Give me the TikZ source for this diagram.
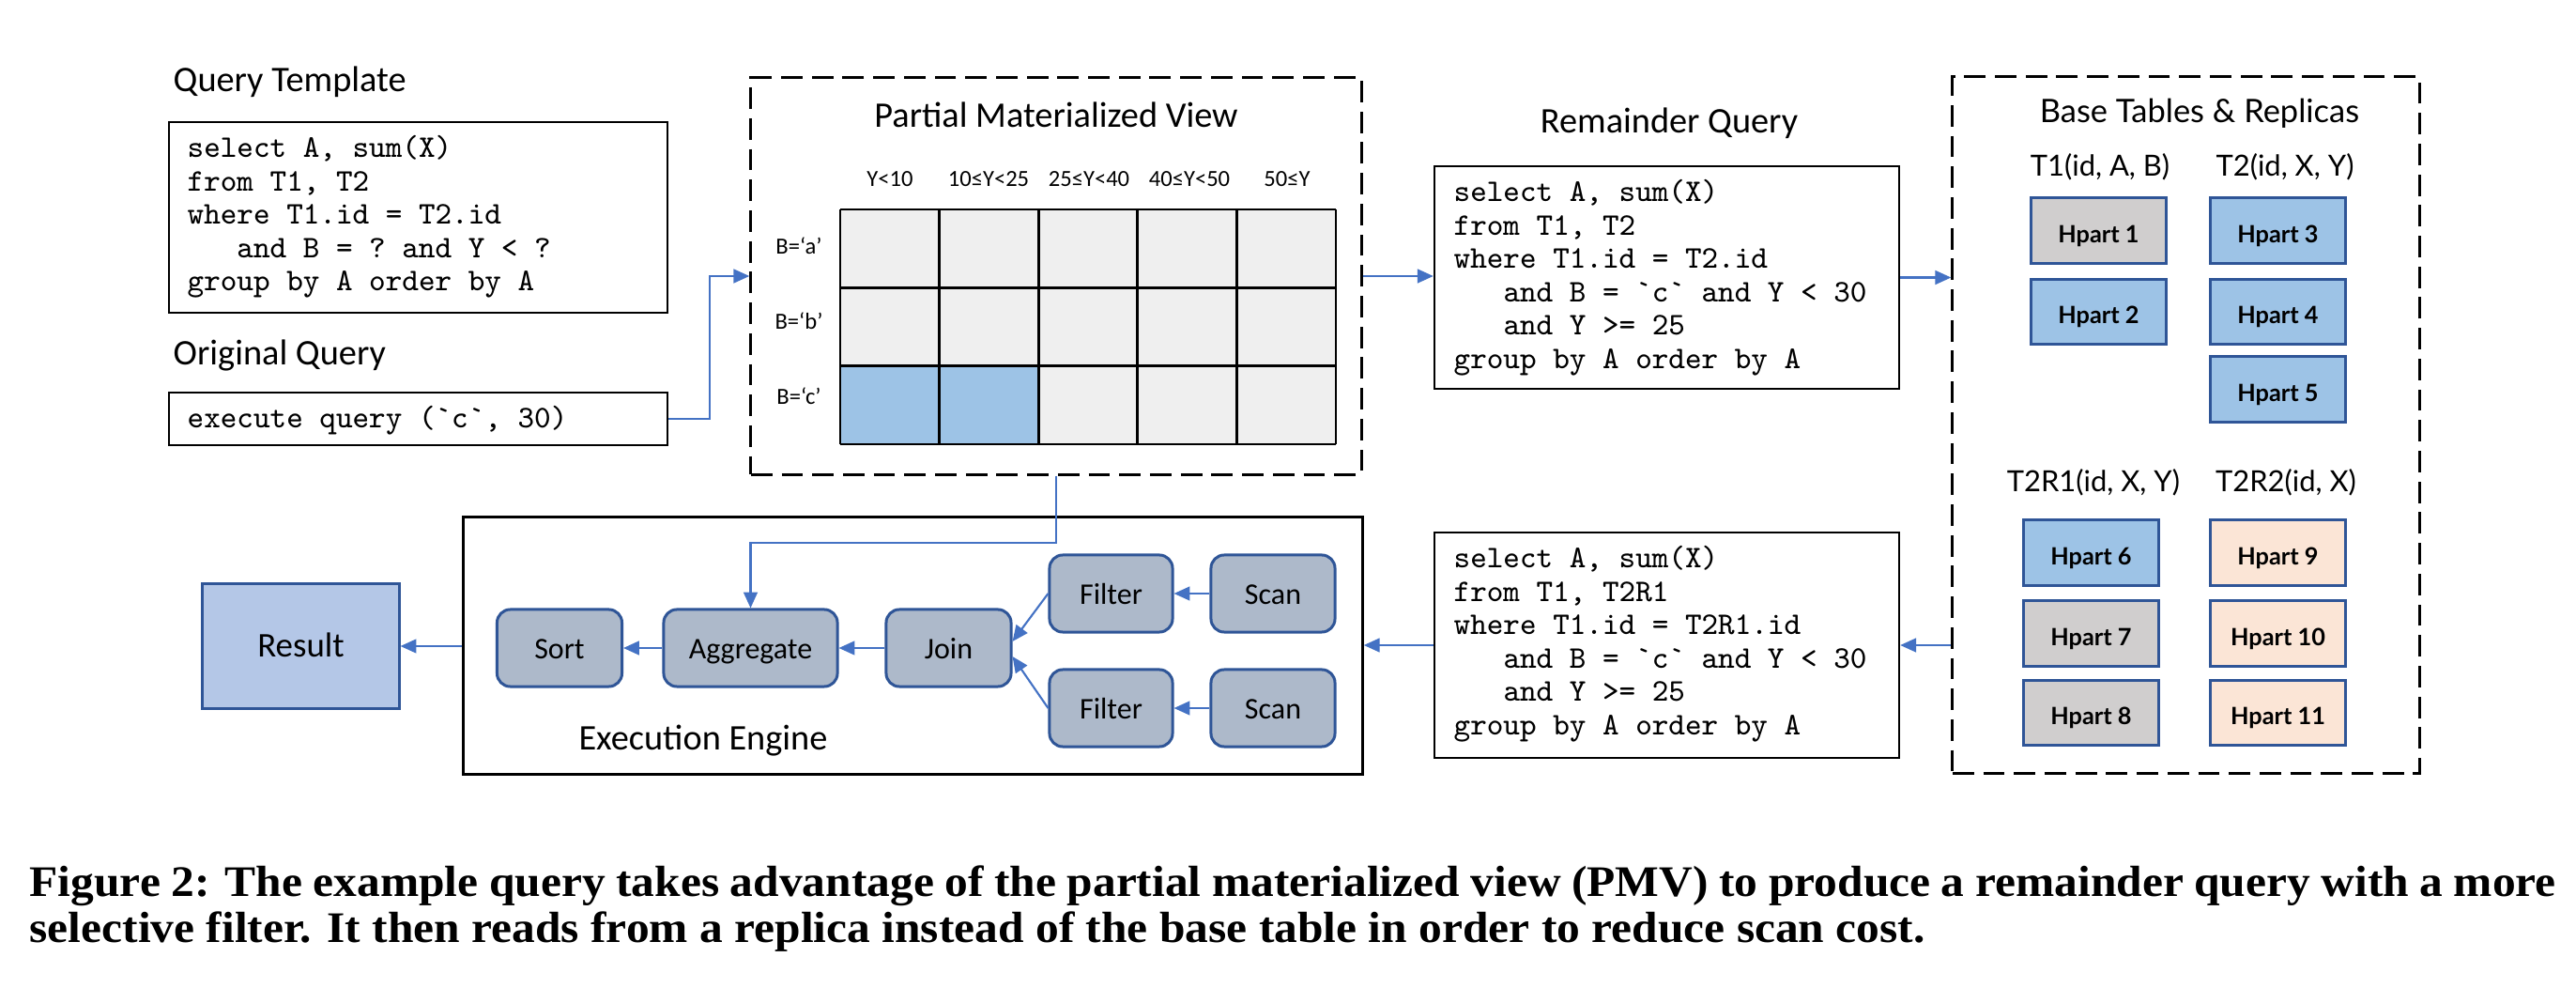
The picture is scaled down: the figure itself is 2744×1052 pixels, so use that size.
\documentclass[tikz,border=0pt]{standalone}
\usepackage{fontspec}
\usepackage{graphicx}
\setmainfont{Carlito}
\setmonofont{Latin Modern Mono}
\newfontfamily\latofont{Lato}
\newfontfamily\capfont{Liberation Serif}
\usetikzlibrary{arrows.meta,calc}
\definecolor{arrowblue}{HTML}{4472C4}
\definecolor{darkblue}{HTML}{2F5597}
\definecolor{hblue}{HTML}{9DC3E6}
\definecolor{hgray}{HTML}{D0CECE}
\definecolor{hpeach}{HTML}{FBE5D6}
\definecolor{engfill}{HTML}{ADB9CA}
\definecolor{resfill}{HTML}{B4C7E7}
\definecolor{cellgray}{HTML}{EFEFEF}
\newcommand\codeblock[1]{\vtop{\ttfamily\fontsize{9.53}{10.07}\selectfont\halign{##\hfil\cr#1}}}
\newcommand\ind{\hphantom{xxx}}
\tikzset{
  arr/.style={draw=arrowblue, line width=0.6pt, -{Triangle[length=4.8pt,width=4.2pt]}},
  codebox/.style={draw=black, line width=0.6pt, inner sep=0pt},
  codetext/.style={anchor=base west, inner sep=0pt},
  dashbox/.style={draw=black, line width=0.85pt, dash pattern=on 6.5pt off 2.8pt, inner sep=0pt},
  title/.style={inner sep=0pt, font=\fontsize{10.9}{12}\selectfont},
  engnode/.style={draw=darkblue, fill=engfill, line width=0.85pt, rounded corners=4pt,
    minimum height=0.82cm, inner sep=0pt, text height=0.644em, text depth=0pt,
    font=\fontsize{9.1}{11}\selectfont},
  hpart/.style={draw=darkblue, line width=0.85pt, minimum width=1.43cm, minimum height=0.69cm,
    inner sep=0pt, text height=0.72em, text depth=0pt, font=\latofont\bfseries\fontsize{7.2}{8}\selectfont},
  thead/.style={inner sep=0pt, anchor=base, font=\latofont\fontsize{8.8}{10}\selectfont},
  pmvlab/.style={inner sep=0pt, font=\fontsize{7}{8}\selectfont},
  captext/.style={anchor=base west, inner sep=0pt, font=\capfont\bfseries\fontsize{13.2}{15}\selectfont},
}
\begin{document}
\begin{tikzpicture}[x=0.01cm,y=-0.01cm]
\fill[white] (0,0) rectangle (2744,1052);
\useasboundingbox (0,0) rectangle (2744,1052);

% ---------- left: query template and original query ----------
\node[title, anchor=base west] (qtl) at (184,98) {Query Template};
\node[codebox, minimum width=5.31cm, minimum height=2.03cm] (tmpl) at (445.5,231.5) {};
\node[codetext] (tmpltext) at (199,168) {\codeblock{%
select A, sum(X)\cr
from T1, T2\cr
where T1.id = T2.id\cr
\ind and B = ? and Y < ?\cr
group by A order by A\cr}};
\node[title, anchor=base west] (oql) at (184,389) {Original Query};
\node[codebox, minimum width=5.31cm, minimum height=0.56cm] (exq) at (445.5,446) {};
\node[codetext] (exqtext) at (199,456) {\codeblock{execute query (`c`, 30)\cr}};

% ---------- PMV ----------
\node[dashbox, minimum width=6.5cm, minimum height=4.22cm] (pmv) at (1125,294) {};
\node[title, anchor=base] (pmvt) at (1125,136) {Partial Materialized View};
\foreach \c in {0,...,4}{
  \foreach \r in {0,1,2}{
    \fill[cellgray] (895+105.6*\c,223+83.3*\r) rectangle ++(105.6,83.3);
  }
}
\fill[hblue] (895,389.6) rectangle (1106.2,473);
\foreach \c in {0,...,5}{ \draw[line width=0.75pt] (895+105.6*\c,223) -- (895+105.6*\c,473); }
\foreach \r in {0,...,3}{ \draw[line width=0.75pt] (895,223+83.3*\r) -- (1423,223+83.3*\r); }
\node[pmvlab] (c1) at (948,191) {Y<10};
\node[pmvlab] (c2) at (1053,191) {10≤Y<25};
\node[pmvlab] (c3) at (1160,191) {25≤Y<40};
\node[pmvlab] (c4) at (1267,191) {40≤Y<50};
\node[pmvlab] (c5) at (1371,191) {50≤Y};
\node[pmvlab] (r1) at (851,262) {B=‘a’};
\node[pmvlab] (r2) at (851,342) {B=‘b’};
\node[pmvlab] (r3) at (851,422) {B=‘c’};

% ---------- Remainder query ----------
\node[title, anchor=base] (remt) at (1778,142) {Remainder Query};
\node[codebox, minimum width=4.95cm, minimum height=2.37cm] (rem) at (1775.5,295.5) {};
\node[codetext] (remtext) at (1548,215) {\codeblock{%
select A, sum(X)\cr
from T1, T2\cr
where T1.id = T2.id\cr
\ind and B = `c` and Y < 30\cr
\ind and Y >= 25\cr
group by A order by A\cr}};

% ---------- lower query ----------
\node[codebox, minimum width=4.95cm, minimum height=2.40cm] (lowq) at (1775.5,687) {};
\node[codetext] (lowqtext) at (1548,605) {\codeblock{%
select A, sum(X)\cr
from T1, T2R1\cr
where T1.id = T2R1.id\cr
\ind and B = `c` and Y < 30\cr
\ind and Y >= 25\cr
group by A order by A\cr}};

% ---------- Base tables ----------
\node[dashbox, minimum width=4.97cm, minimum height=7.41cm] (base) at (2328.5,452.5) {};
\node[inner sep=0pt, anchor=base, font=\latofont\fontsize{9.8}{11}\selectfont] (baset) at (2343,131) {Base Tables \& Replicas};
\node[thead] (t1h) at (2237,188) {T1(id, A, B)};
\node[thead] (t2h) at (2434,188) {T2(id, X, Y)};
\node[thead] (t3h) at (2230,524) {T2R1(id, X, Y)};
\node[thead] (t4h) at (2435,524) {T2R2(id, X)};
\node[hpart, fill=hgray]  (h1)  at (2235.5,245.5) {Hpart 1};
\node[hpart, fill=hblue]  (h2)  at (2235.5,332)   {Hpart 2};
\node[hpart, fill=hblue]  (h3)  at (2426.5,245.5) {Hpart 3};
\node[hpart, fill=hblue]  (h4)  at (2426.5,332)   {Hpart 4};
\node[hpart, fill=hblue]  (h5)  at (2426.5,414.5) {Hpart 5};
\node[hpart, fill=hblue]  (h6)  at (2227.5,588.5) {Hpart 6};
\node[hpart, fill=hgray]  (h7)  at (2227.5,674.5) {Hpart 7};
\node[hpart, fill=hgray]  (h8)  at (2227.5,759)   {Hpart 8};
\node[hpart, fill=hpeach] (h9)  at (2426.5,588.5) {Hpart 9};
\node[hpart, fill=hpeach] (h10) at (2426.5,674.5) {Hpart 10};
\node[hpart, fill=hpeach] (h11) at (2426.5,759)   {Hpart 11};

% ---------- Execution engine ----------
\node[draw=black, line width=0.85pt, minimum width=9.57cm, minimum height=2.73cm, inner sep=0pt] (eng) at (972.5,687.5) {};
\node[title, anchor=base] (engt) at (749,799) {Execution Engine};
\node[engnode, minimum width=1.33cm] (sort) at (596,690) {Sort};
\node[engnode, minimum width=1.85cm] (agg) at (799.5,690) {Aggregate};
\node[engnode, minimum width=1.33cm] (join) at (1010.5,690) {Join};
\node[engnode, minimum width=1.31cm] (filt1) at (1183.5,632) {Filter};
\node[engnode, minimum width=1.32cm] (scan1) at (1356,632) {Scan};
\node[engnode, minimum width=1.31cm] (filt2) at (1183.5,754) {Filter};
\node[engnode, minimum width=1.32cm] (scan2) at (1356,754) {Scan};
\node[draw=darkblue, fill=resfill, line width=0.85pt, minimum width=2.09cm, minimum height=1.33cm,
  inner sep=0pt, text height=0.644em, text depth=0pt, font=\fontsize{10.5}{12}\selectfont] (res) at (320.5,688) {Result};

% ---------- connectors ----------
\coordinate (bend1) at (756,446);
\coordinate (bend2) at (1125,578);
\draw[arr] (exq.east) -- (bend1) |- (pmv.west);
\draw[arr] (pmv.east) -- (pmv.east -| rem.west);
\draw[arr] (rem.east) -- (rem.east -| base.west);
\draw[arr] (base.west |- lowq.east) -- (lowq.east);
\draw[arr] (lowq.west) -- (lowq.west -| eng.east);
\draw[arr] (eng.west |- res.east) -- (res.east);
\draw[arr] (pmv.south) -- (bend2) -| (agg.north);
\draw[arr] (agg.west) -- (sort.east);
\draw[arr] (join.west) -- (agg.east);
\draw[arr] (filt1.west) -- ($(join.east)+(0,-7)$);
\draw[arr] (filt2.west) -- ($(join.east)+(0,9)$);
\draw[arr] (scan1.west) -- (filt1.east);
\draw[arr] (scan2.west) -- (filt2.east);

% ---------- caption ----------
\node[captext] (cap1) at (31,954)
  {\scalebox{1.066}[1]{\makebox[25.23cm][s]{Figure 2: The example query takes advantage of the partial materialized view (PMV) to produce a remainder query with a more}}};
\node[captext] (cap2) at (31,1003)
  {\scalebox{1.066}[1]{selective filter. It then reads from a replica instead of the base table in order to reduce scan cost.}};
\end{tikzpicture}
\end{document}
